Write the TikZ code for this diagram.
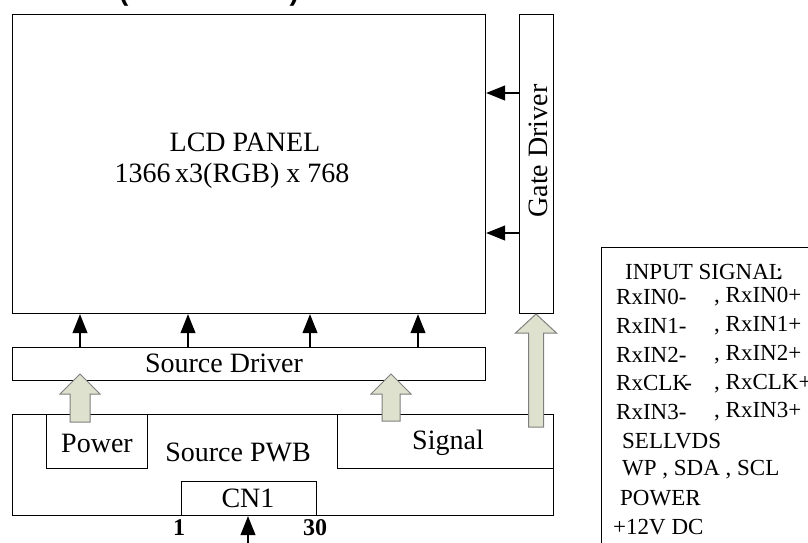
\documentclass[tikz,border=0pt]{standalone}
\usepackage{fontspec}
\setmainfont{Liberation Serif}
\newfontfamily\headfont{Liberation Sans}
\usetikzlibrary{arrows.meta}

\definecolor{fatfill}{HTML}{DEE1CD}
\definecolor{fatline}{HTML}{7F7F7F}

\newcommand{\lblfont}{\fontsize{28}{31}\selectfont}
\newcommand{\sigfont}{\fontsize{23}{26}\selectfont}

% fat up arrow: x, tip y, bottom y, head half width, shaft half width, head length
\newcommand{\fatup}[6]{%
  \filldraw[fat] (#1,#2) -- (#1+#4,#2+#6) -- (#1+#5,#2+#6) -- (#1+#5,#3)
    -- (#1-#5,#3) -- (#1-#5,#2+#6) -- (#1-#4,#2+#6) -- cycle;}

\tikzset{
  box/.style={draw, line width=1.2pt, inner sep=0pt, anchor=north west},
  lbl/.style={inner sep=0pt, font=\lblfont},
  pin/.style={inner sep=0pt, font=\fontsize{24}{26}\selectfont\bfseries},
  sigtxt/.style={inner sep=0pt, anchor=west, font=\sigfont},
  sig/.style={-{Triangle[length=19pt,width=15pt]}, line width=1.1pt},
  fat/.style={draw=fatline, fill=fatfill, line width=1pt, line join=miter}
}

\begin{document}
\begin{tikzpicture}[x=1pt,y=-1pt]
\useasboundingbox (0,0) rectangle (808,542);
\clip (0,0) rectangle (808,542);

% cut-off heading
\node[anchor=base west, inner sep=0pt, font=\headfont\bfseries\lblfont] (head) at (119,0) {(\hspace{161pt})};

% boxes
\node[box, minimum width=473pt, minimum height=299pt] (panel) at (12,14) {};
\node[box, minimum width=34pt, minimum height=299pt] (gate) at (519,14) {};
\node[box, minimum width=473pt, minimum height=33pt] (srcdrv) at (12,347) {};
\node[box, minimum width=541pt, minimum height=101pt] (pwb) at (12,414) {};
\node[box, minimum width=101pt, minimum height=54pt] (power) at (46,414) {};
\node[box, minimum width=216pt, minimum height=54pt] (signal) at (337,414) {};
\node[box, minimum width=135pt, minimum height=34pt] (cn) at (181,481) {};
\node[box, minimum width=230pt, minimum height=320pt] (inbox) at (601,247) {};

% labels
\node[lbl] (lcd) at (245,142) {LCD PANEL};
\node[lbl] (res) at (232,176) {1366\,x3(RGB) x 768};
\node[lbl, rotate=90] (gatetxt) at (538,151) {Gate Driver};
\node[lbl] (srctxt) at (224,363) {Source Driver};
\node[lbl] (powtxt) at (97,443) {Power};
\node[lbl] (pwbtxt) at (238,452) {Source PWB};
\node[lbl] (sigtxt) at (448,443) {Signal};
\node[lbl] (cntxt) at (248,498) {CN1};
\node[pin] (pinA) at (179,528) {1};
\node[pin] (pinB) at (315,528) {30};

% thin arrows
\foreach \x in {80,188,310,418}
  \draw[sig] (srcdrv.north -| \x,0) -- (panel.south -| \x,0);
\foreach \y in {93,233}
  \draw[sig] (gate.west |- 0,\y) -- (panel.east |- 0,\y);
\coordinate (cnin) at (248,550);
\draw[sig] (cnin) -- (cnin |- cn.south);

% fat arrows
\fatup{80}{374}{422}{20}{10}{20}
\fatup{391}{374}{421}{20}{9}{20}
\fatup{536}{314}{427}{20.5}{7.5}{19}

% input signal list
\node[sigtxt] (l0) at (625,272) {INPUT SIGNAL\kern-.3em:};
\node[sigtxt] (l1) at (616,297) {RxIN0-};
\node[sigtxt] (r1) at (714,297) {, RxIN0+};
\node[sigtxt] (l2) at (616,325.75) {RxIN1-};
\node[sigtxt] (r2) at (714,325.75) {, RxIN1+};
\node[sigtxt] (l3) at (616,354.5) {RxIN2-};
\node[sigtxt] (r3) at (714,354.5) {, RxIN2+};
\node[sigtxt] (l4) at (616,383.25) {RxCLK\kern-.2em-};
\node[sigtxt] (r4) at (714,383.25) {, RxCLK+};
\node[sigtxt] (l5) at (616,412) {RxIN3-};
\node[sigtxt] (r5) at (714,412) {, RxIN3+};
\node[sigtxt] (l6) at (622,440.75) {SELLVDS};
\node[sigtxt] (l7) at (622,469.5) {WP , SDA , SCL};
\node[sigtxt] (l8) at (620,498.25) {POWER\kern-.3em:};
\node[sigtxt] (l9) at (613,527) {+12V DC};
\end{tikzpicture}
\end{document}
